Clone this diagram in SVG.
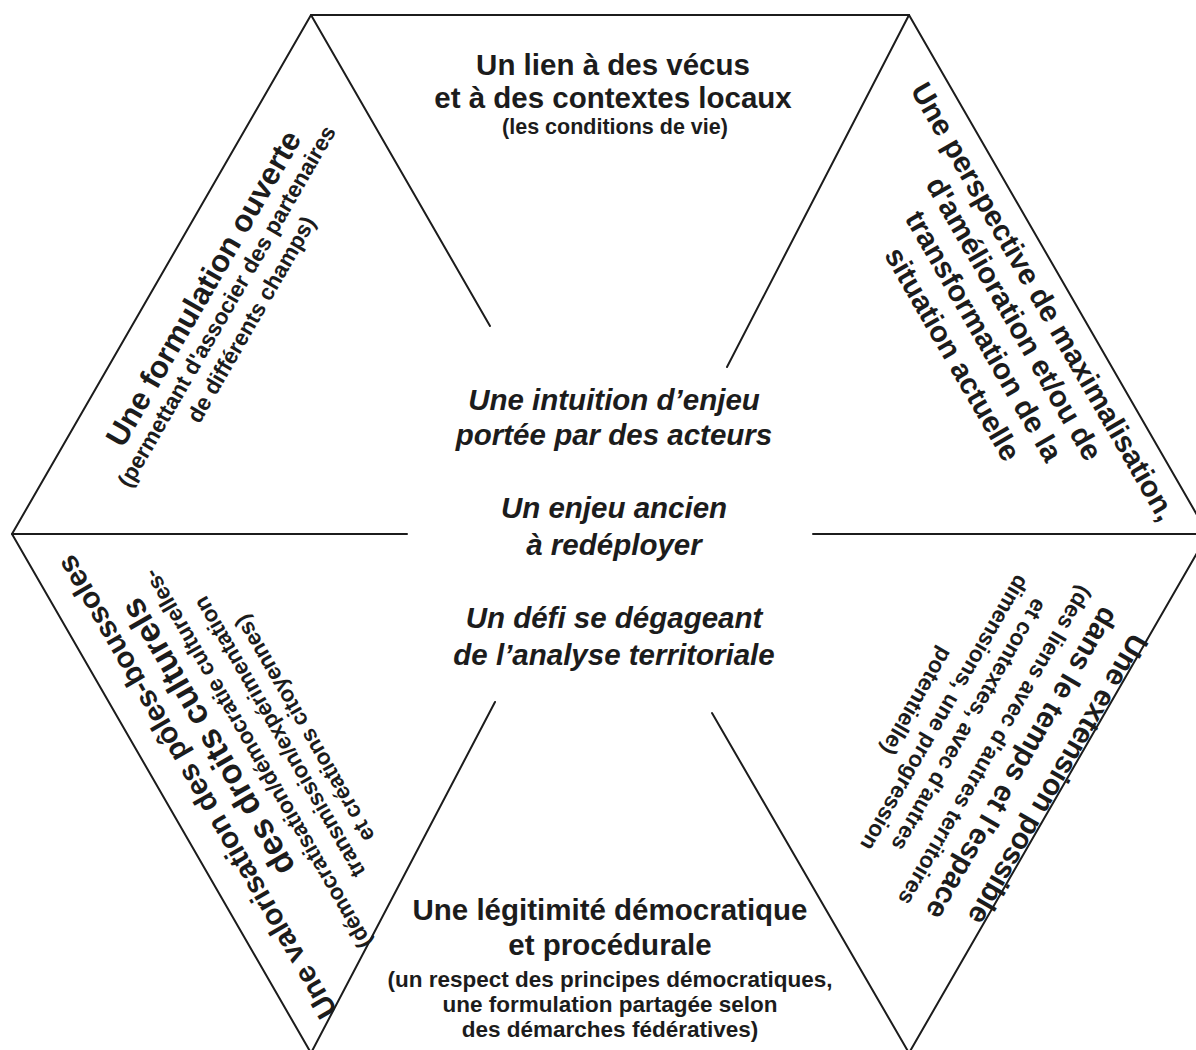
<svg xmlns="http://www.w3.org/2000/svg" width="1196" height="1050" viewBox="0 0 1196 1050">
  <style>
    .ln { stroke: #1c1c1c; stroke-width: 2; fill: none; stroke-linecap: round; stroke-linejoin: miter; }
    text { font-family: "Liberation Sans", Arial, sans-serif; font-weight: bold; fill: #1c1c1c; text-anchor: middle; }
    .t { font-size: 29.5px; }
    .s { font-size: 22.5px; }
    .c { font-size: 29.5px; font-style: italic; }
  </style>
  <rect width="1196" height="1050" fill="#ffffff"/>

  <!-- hexagon outline and the six spokes pointing to the centre -->
  <g id="connectors">
    <polygon class="ln" points="12,534 311,15 909,15 1208,534 909,1053 311,1053"/>
    <line class="ln" x1="311" y1="15" x2="490" y2="326"/>
    <line class="ln" x1="909" y1="15" x2="727" y2="367"/>
    <line class="ln" x1="12" y1="534" x2="407" y2="534"/>
    <line class="ln" x1="813" y1="534" x2="1208" y2="534"/>
    <line class="ln" x1="311" y1="1053" x2="495" y2="702"/>
    <line class="ln" x1="909" y1="1053" x2="712" y2="713"/>
  </g>

  <!-- top sector -->
  <g id="lien-vecus">
    <text class="t" x="613" y="75">Un lien à des vécus</text>
    <text class="t" x="613" y="108">et à des contextes locaux</text>
    <text class="s" x="615" y="134" style="font-size:21.5px">(les conditions de vie)</text>
  </g>

  <!-- upper-right sector, along the upper-right edge -->
  <g id="perspective" transform="rotate(60)">
    <text class="t" x="783" y="-743">Une perspective de maximalisation,</text>
    <text class="t" x="783" y="-709">d'amélioration et/ou de</text>
    <text class="t" x="783" y="-674">transformation de la</text>
    <text class="t" x="783" y="-638">situation actuelle</text>
  </g>

  <!-- lower-right sector, along the lower-right edge -->
  <g id="extension" transform="rotate(120)">
    <text class="t" x="146" y="-1296">Une extension possible</text>
    <text class="t" x="150" y="-1257">dans le temps et l'espace</text>
    <text class="s" x="148" y="-1227">(des liens avec d'autres territoires</text>
    <text class="s" x="143" y="-1194">et contextes, avec d'autres</text>
    <text class="s" x="145" y="-1167">dimensions, une progression</text>
    <text class="s" x="149" y="-1137">potentielle)</text>
  </g>

  <!-- bottom sector -->
  <g id="legitimite">
    <text class="t" x="610" y="920">Une légitimité démocratique</text>
    <text class="t" x="610" y="955">et procédurale</text>
    <text class="s" x="610" y="987">(un respect des principes démocratiques,</text>
    <text class="s" x="610" y="1012">une formulation partagée selon</text>
    <text class="s" x="610" y="1037">des démarches fédératives)</text>
  </g>

  <!-- lower-left sector, along the lower-left edge -->
  <g id="valorisation" transform="rotate(-120)">
    <text class="t" x="-780" y="-213">Une valorisation des pôles-boussoles</text>
    <text class="t" x="-742" y="-177" style="font-size:34px">des droits culturels</text>
    <text class="s" x="-786" y="-149">(démocratisation/démocratie culturelles-</text>
    <text class="s" x="-778" y="-119">transmission/expérimentation</text>
    <text class="s" x="-783" y="-93">et créations citoyennes)</text>
  </g>

  <!-- upper-left sector, along the upper-left edge -->
  <g id="formulation" transform="rotate(-60)">
    <text class="t" x="-148" y="331" style="font-size:31px">Une formulation ouverte</text>
    <text class="s" x="-152" y="357">(permettant d'associer des partenaires</text>
    <text class="s" x="-151" y="385">de différents champs)</text>
  </g>

  <!-- centre -->
  <g id="centre">
    <text class="c" x="614" y="410">Une intuition d’enjeu</text>
    <text class="c" x="614" y="445">portée par des acteurs</text>
    <text class="c" x="614" y="518">Un enjeu ancien</text>
    <text class="c" x="614" y="555">à redéployer</text>
    <text class="c" x="614" y="628">Un défi se dégageant</text>
    <text class="c" x="614" y="665">de l’analyse territoriale</text>
  </g>
</svg>
